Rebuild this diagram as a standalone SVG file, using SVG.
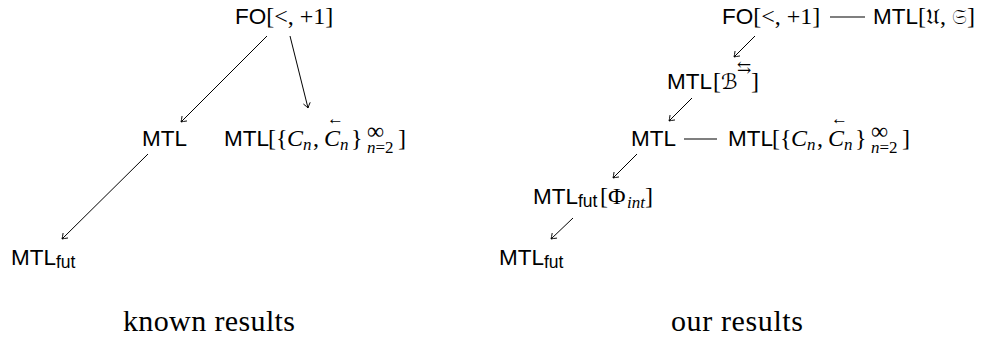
<svg xmlns="http://www.w3.org/2000/svg" width="982" height="339" viewBox="0 0 982 339">
<style>
.sans{font-family:"Liberation Sans",Arial,sans-serif;font-size:22.5px;fill:#000}
.sub{font-family:"Liberation Sans",Arial,sans-serif;font-size:17.5px}
.m{font-family:"Liberation Serif","DejaVu Serif",serif;font-size:24px;font-style:normal}
.mi{font-family:"Liberation Serif","DejaVu Serif",serif;font-size:24px;font-style:italic}
.ms{font-family:"Liberation Serif","DejaVu Serif",serif;font-size:17px;font-style:italic}
.msn{font-family:"Liberation Serif","DejaVu Serif",serif;font-size:17px;font-style:normal}
.sym{font-family:"DejaVu Serif","DejaVu Sans",serif;font-size:21px}
.cap{font-family:"Liberation Serif","DejaVu Serif",serif;font-size:30px;fill:#000}
.edge{stroke:#000;stroke-width:1;fill:none}
.rule{stroke:#000;stroke-width:1.1}
</style>
<defs>
<marker id="ah" viewBox="-6 -5 8 10" markerWidth="8" markerHeight="10" refX="0" refY="0" orient="auto" markerUnits="userSpaceOnUse">
<path d="M-5,-3.5 Q-1.5,-0.8 0,0 Q-1.5,0.8 -5,3.5" fill="none" stroke="#000" stroke-width="0.9"/>
</marker>
</defs>

<g id="connectors">
<line class="edge" x1="267" y1="36" x2="181" y2="122" marker-end="url(#ah)"/>
<line class="edge" x1="290" y1="36" x2="308" y2="108" marker-end="url(#ah)"/>
<line class="edge" x1="148" y1="154" x2="62" y2="239" marker-end="url(#ah)"/>
<line class="edge" x1="755" y1="36" x2="734" y2="57" marker-end="url(#ah)"/>
<line class="edge" x1="692" y1="98" x2="669" y2="121" marker-end="url(#ah)"/>
<line class="edge" x1="637" y1="154" x2="613" y2="178" marker-end="url(#ah)"/>
<line class="edge" x1="573" y1="218" x2="551" y2="239" marker-end="url(#ah)"/>
<line class="rule" x1="830" y1="17" x2="865" y2="17"/>
<line class="rule" x1="684" y1="139" x2="717" y2="139"/>
</g>

<!-- known results -->
<g id="known-fo">
<text class="sans" x="235" y="24">FO<tspan class="m">[&lt;, +1]</tspan></text>
</g>
<g id="known-mtl">
<text class="sans" x="142" y="146">MTL</text>
</g>
<g id="known-mtlc">
<text class="sans" x="224" y="146">MTL</text>
<text class="m" x="268" y="146">[{</text>
<text class="mi" x="287" y="146">C</text>
<text class="ms" x="303" y="150">n</text>
<text class="m" x="313" y="146">,</text>
<text class="mi" x="324" y="146">C</text>
<text class="msn" x="327" y="124">←</text>
<text class="ms" x="340" y="150">n</text>
<text class="m" x="351" y="146">}</text>
<text class="m" x="367" y="139" font-size="22">∞</text>
<text class="ms" x="367" y="153">n<tspan class="msn">=2</tspan></text>
<text class="m" x="398" y="146">]</text>
</g>
<g id="known-mtlfut">
<text class="sans" x="11" y="265">MTL<tspan class="sub" dy="3">fut</tspan></text>
</g>

<!-- our results -->
<g id="our-fo">
<text class="sans" x="722" y="24">FO<tspan class="m">[&lt;, +1]</tspan></text>
</g>
<g id="our-mtl-us">
<text class="sans" x="873" y="24">MTL<tspan class="m">[</tspan><tspan class="sym">𝔘</tspan><tspan class="m">, </tspan><tspan class="sym">𝔖</tspan><tspan class="m">]</tspan></text>
</g>
<g id="our-mtl-b">
<text class="sans" x="667" y="89">MTL</text>
<text class="m" x="713" y="89">[</text>
<text class="sym" x="721" y="89" font-size="25" font-style="italic">ℬ</text>
<text class="msn" x="737" y="73" font-size="14">⇆</text>
<text class="m" x="751" y="89">]</text>
</g>
<g id="our-mtl">
<text class="sans" x="631" y="146">MTL</text>
</g>
<g id="our-mtlc" transform="translate(504,0)">
<text class="sans" x="224" y="146">MTL</text>
<text class="m" x="268" y="146">[{</text>
<text class="mi" x="287" y="146">C</text>
<text class="ms" x="303" y="150">n</text>
<text class="m" x="313" y="146">,</text>
<text class="mi" x="324" y="146">C</text>
<text class="msn" x="327" y="124">←</text>
<text class="ms" x="340" y="150">n</text>
<text class="m" x="351" y="146">}</text>
<text class="m" x="367" y="139" font-size="22">∞</text>
<text class="ms" x="367" y="153">n<tspan class="msn">=2</tspan></text>
<text class="m" x="398" y="146">]</text>
</g>
<g id="our-mtlfut-phi">
<text class="sans" x="533" y="204">MTL<tspan class="sub" dy="3">fut</tspan></text>
<text class="m" x="600" y="204">[Φ</text>
<text class="ms" x="627" y="208">int</text>
<text class="m" x="645" y="204">]</text>
</g>
<g id="our-mtlfut">
<text class="sans" x="499" y="265">MTL<tspan class="sub" dy="3">fut</tspan></text>
</g>

<g id="captions">
<text class="cap" x="123" y="331" textLength="172">known results</text>
<text class="cap" x="671" y="331" textLength="132">our results</text>
</g>
</svg>
